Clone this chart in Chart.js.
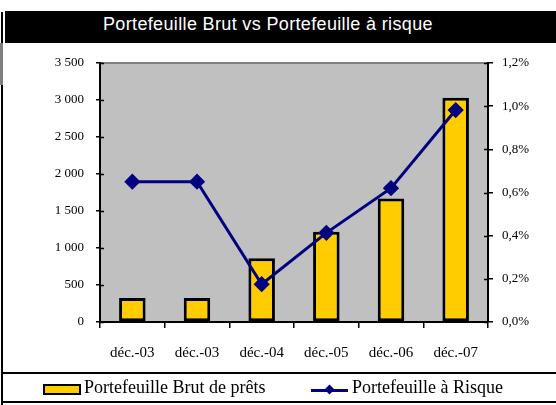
<!DOCTYPE html>
<html>
<head>
<meta charset="utf-8">
<script src="https://cdn.jsdelivr.net/npm/chart.js@4/dist/chart.umd.min.js"></script>
<style>
  body { margin: 0; background: #fff; }
  #wrap { position: relative; width: 556px; height: 405px; overflow: hidden; }
  #titleBar { position: absolute; left: 5px; top: 11px; width: 551px; height: 32px; background: #000; }
  #titleText { position: absolute; left: 103px; top: 15px; font-family: 'Liberation Sans', Arial, sans-serif; font-size: 18px; line-height: 18px; letter-spacing: 0.35px; color: #fff; white-space: nowrap; }
  #leftLine { position: absolute; left: 1px; top: 12px; width: 2px; height: 393px; background: #000; }
  #leftGrey { position: absolute; left: 0; top: 43px; width: 3px; height: 42px; background: #808080; }
  #legendTop { position: absolute; left: 3px; top: 372px; width: 553px; height: 2px; background: #000; }
  #legendBottom { position: absolute; left: 3px; top: 401px; width: 553px; height: 2px; background: #000; }
  .legText { position: absolute; top: 378px; font-family: 'Liberation Serif', 'Times New Roman', serif; font-size: 18px; line-height: 18px; color: #000; white-space: nowrap; }
  #legBox { position: absolute; left: 43px; top: 384px; width: 34px; height: 7px; background: #ffcc00; border: 2px solid #000; }
  #legLine { position: absolute; left: 311px; top: 389px; width: 37px; height: 3px; background: #000080; }
  #legDiamond { position: absolute; left: 326px; top: 386px; width: 7px; height: 7px; background: #000080; transform: rotate(45deg); }
  canvas { position: absolute; left: 0; top: 43px; }
</style>
</head>
<body>
<div id="wrap">
  <div id="leftLine"></div>
  <div id="leftGrey"></div>
  <div id="titleBar"></div>
  <div id="titleText">Portefeuille Brut vs Portefeuille à risque</div>
  <canvas id="chart" width="556" height="330"></canvas>
  <div id="legendTop"></div>
  <div id="legendBottom"></div>
  <div id="legBox"></div>
  <div class="legText" style="left:84px">Portefeuille Brut de prêts</div>
  <div id="legLine"></div>
  <div id="legDiamond"></div>
  <div class="legText" style="left:352px">Portefeuille à Risque</div>
</div>
<script>
var periods = ['déc.-03', 'déc.-03', 'déc.-04', 'déc.-05', 'déc.-06', 'déc.-07'];
var portefeuilleBrut = [325, 325, 860, 1220, 1670, 3030];
var portefeuilleRisque = [0.65, 0.65, 0.175, 0.413, 0.62, 0.982]; // in %

var serif = "'Liberation Serif', 'Times New Roman', serif";

function thousands(v) {
  return String(v).replace(/\B(?=(\d{3})+(?!\d))/g, ' ');
}

// grey plot background + inner half of the axis tick marks
var plotDecor = {
  id: 'plotDecor',
  beforeDraw: function(chart) {
    var a = chart.chartArea, c = chart.ctx;
    c.save();
    c.fillStyle = '#c0c0c0';
    c.fillRect(a.left, a.top, a.right - a.left, a.bottom - a.top);
    c.strokeStyle = '#808080';
    c.lineWidth = 2;
    c.beginPath();
    c.moveTo(a.left, a.top);
    c.lineTo(a.right, a.top);
    c.stroke();
    c.restore();
  },
  afterDraw: function(chart) {
    var a = chart.chartArea, c = chart.ctx;
    c.save();
    c.strokeStyle = '#000';
    c.lineWidth = 1.5;
    chart.scales.y.ticks.forEach(function(t) {
      var py = Math.round(chart.scales.y.getPixelForValue(t.value)) + 0.5;
      c.beginPath(); c.moveTo(a.left, py); c.lineTo(a.left + 4, py); c.stroke();
    });
    chart.scales.y1.ticks.forEach(function(t) {
      var py = Math.round(chart.scales.y1.getPixelForValue(t.value)) + 0.5;
      c.beginPath(); c.moveTo(a.right - 4, py); c.lineTo(a.right, py); c.stroke();
    });
    c.restore();
  }
};

function drawChart() {
  var ctx = document.getElementById('chart');
  var myChart = new Chart(ctx, {
    type: 'bar',
    data: {
      labels: periods,
      datasets: [{
        type: 'line',
        label: 'Portefeuille à Risque',
        data: portefeuilleRisque,
        yAxisID: 'y1',
        borderColor: '#000080',
        backgroundColor: '#000080',
        borderWidth: 3,
        pointStyle: 'rectRot',
        pointRadius: 6,
        pointHoverRadius: 6,
        tension: 0,
        order: 1
      }, {
        label: 'Portefeuille Brut de prêts',
        data: portefeuilleBrut,
        yAxisID: 'y',
        backgroundColor: '#ffcc00',
        borderColor: '#000',
        borderWidth: 3,
        borderSkipped: false,
        categoryPercentage: 1,
        barPercentage: 0.41,
        order: 2
      }]
    },
    options: {
      responsive: false,
      animation: false,
      layout: { padding: { left: 0, right: 0, top: 20, bottom: 0 } },
      plugins: { legend: { display: false }, tooltip: { enabled: false } },
      scales: {
        x: {
          afterFit: function(s) { s.height = 51; },
          grid: { drawOnChartArea: false, tickLength: 6, color: '#000', lineWidth: 1.5 },
          border: { color: '#000', width: 2 },
          ticks: { color: '#000', padding: 16, font: { family: serif, size: 15 }, maxRotation: 0 }
        },
        y: {
          position: 'left',
          min: 0, max: 3500,
          afterFit: function(s) { s.width = 100; },
          grid: { drawOnChartArea: false, tickLength: 4, color: '#000', lineWidth: 1.5 },
          border: { color: '#000', width: 2 },
          ticks: { stepSize: 500, color: '#000', padding: 12, font: { family: serif, size: 13 },
            callback: function(v) { return thousands(v); } }
        },
        y1: {
          position: 'right',
          min: 0, max: 1.2,
          afterFit: function(s) { s.width = 68; },
          grid: { drawOnChartArea: false, tickLength: 5, color: '#000', lineWidth: 1.5 },
          border: { color: '#000', width: 2 },
          ticks: { stepSize: 0.2, color: '#000', padding: 9, font: { family: serif, size: 13 },
            callback: function(v) { return v.toFixed(1).replace('.', ',') + '%'; } }
        }
      }
    },
    plugins: [plotDecor]
  });
}

if (document.fonts && document.fonts.load) {
  Promise.all([
    document.fonts.load("13px 'Liberation Serif'"),
    document.fonts.load("15px 'Liberation Serif'")
  ]).then(drawChart, drawChart);
} else {
  drawChart();
}
</script>
</body>
</html>
